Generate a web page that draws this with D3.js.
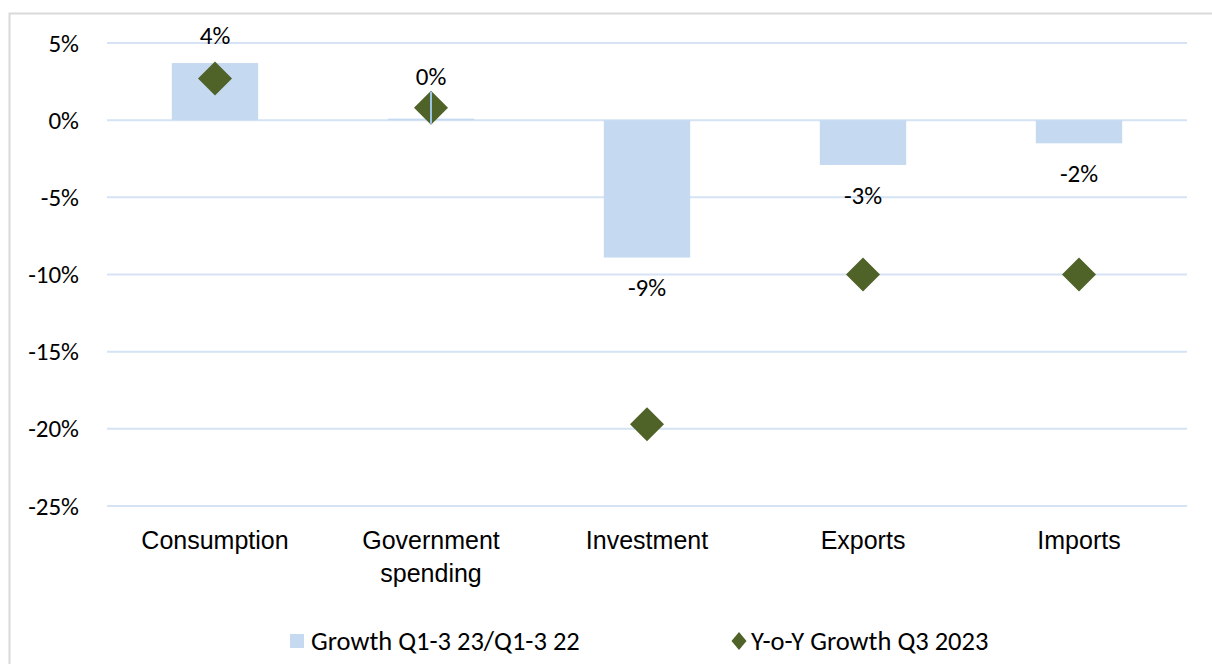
<!DOCTYPE html>
<html>
<head>
<meta charset="utf-8">
<script src="https://cdn.jsdelivr.net/npm/d3@7"></script>
<style>
  body { margin: 0; background: #fff; }
  svg { font-family: Carlito, Calibri, Lato, sans-serif; }
</style>
</head>
<body>
<div id="chart"></div>
<script>
const categories = ['Consumption', 'Government spending', 'Investment', 'Exports', 'Imports'];
const growthYtd = [3.7, 0.1, -8.9, -2.9, -1.5];   // Growth Q1-3 23/Q1-3 22
const growthYoy = [2.7, 0.8, -19.7, -10.0, -10.0]; // Y-o-Y Growth Q3 2023
const barLabels = ['4%', '0%', '-9%', '-3%', '-2%'];
const yTicks = [5, 0, -5, -10, -15, -20, -25];

const width = 1212, height = 664;
const margin = { left: 107, right: 25, top: 43, bottom: 158 };
const fontSize = 25;

const svg = d3.select('#chart').append('svg')
  .attr('width', width)
  .attr('height', height);

// chart frame
svg.append('rect')
  .attr('x', 9.5).attr('y', 13.5)
  .attr('width', 1220).attr('height', 700)
  .attr('fill', 'none')
  .attr('stroke', '#d9d9d9')
  .attr('stroke-width', 2);

const x = d3.scaleBand()
  .domain(categories)
  .range([margin.left, width - margin.right]);

const y = d3.scaleLinear()
  .domain([-25, 5])
  .range([height - margin.bottom, margin.top]);

// gridlines
svg.append('g')
  .selectAll('line')
  .data(yTicks)
  .join('line')
  .attr('x1', margin.left)
  .attr('x2', width - margin.right)
  .attr('y1', d => y(d))
  .attr('y2', d => y(d))
  .attr('stroke', '#d5e3f5')
  .attr('stroke-width', 2);

// y axis
const yAxis = svg.append('g')
  .attr('transform', `translate(${margin.left - 25},0)`)
  .call(d3.axisLeft(y).tickValues(yTicks).tickSize(0).tickFormat(d => d + '%'));
yAxis.select('.domain').remove();
yAxis.selectAll('text')
  .attr('font-size', fontSize)
  .attr('font-family', 'Carlito, Calibri, Lato, sans-serif')
  .attr('fill', '#000');

// x axis labels
const xAxis = svg.append('g')
  .attr('transform', `translate(0,${y(-25) + 22})`)
  .call(d3.axisBottom(x).tickSize(0).tickFormat(''));
xAxis.select('.domain').remove();
xAxis.selectAll('.tick').each(function (d) {
  const words = d === 'Government spending' ? ['Government', 'spending'] : [d];
  const t = d3.select(this).append('text')
    .attr('text-anchor', 'middle')
    .attr('font-size', fontSize)
    .attr('fill', '#000');
  words.forEach((w, i) => {
    t.append('tspan').attr('x', 0).attr('y', 21 + i * 33).text(w);
  });
});

const bw = x.bandwidth() * 0.4;

// bars
svg.append('g')
  .selectAll('rect')
  .data(categories)
  .join('rect')
  .attr('x', d => x(d) + (x.bandwidth() - bw) / 2)
  .attr('width', bw)
  .attr('y', (d, i) => y(Math.max(0, growthYtd[i])))
  .attr('height', (d, i) => Math.abs(y(growthYtd[i]) - y(0)))
  .attr('fill', '#c5d9f1');

// diamonds
const ds = 17;
const cx = d => x(d) + x.bandwidth() / 2;
svg.append('g')
  .selectAll('path')
  .data(categories)
  .join('path')
  .attr('transform', (d, i) => `translate(${cx(d)},${y(growthYoy[i])})`)
  .attr('d', `M0,${-ds}L${ds},0L0,${ds}L${-ds},0Z`)
  .attr('fill', '#4f6228');

// near-zero bar shows as a thin line over its marker
svg.append('g')
  .selectAll('line')
  .data(categories.filter((d, i) => Math.abs(growthYtd[i]) < 0.5))
  .join('line')
  .attr('x1', cx).attr('x2', cx)
  .attr('y1', d => y(growthYoy[categories.indexOf(d)]) - ds + 1)
  .attr('y2', d => y(growthYoy[categories.indexOf(d)]) + ds - 1)
  .attr('stroke', '#9dc3e6')
  .attr('stroke-width', 2);

// bar labels
svg.append('g')
  .selectAll('text')
  .data(categories)
  .join('text')
  .attr('x', cx)
  .attr('y', (d, i) => {
    const v = growthYtd[i];
    if (v >= 0) {
      return Math.min(y(v) - 28, y(growthYoy[i]) - ds - 15);
    }
    return y(v) + 30;
  })
  .attr('dy', '0.35em')
  .attr('text-anchor', 'middle')
  .attr('font-size', fontSize)
  .attr('fill', '#000')
  .text((d, i) => barLabels[i]);

// legend
const lg = svg.append('g').attr('transform', 'translate(0,641)');
lg.append('rect')
  .attr('x', 290).attr('y', -7)
  .attr('width', 14).attr('height', 14)
  .attr('fill', '#c5d9f1');
lg.append('text')
  .attr('x', 311).attr('y', 0).attr('dy', '0.35em')
  .attr('font-size', 26.5)
  .text('Growth Q1-3 23/Q1-3 22');
lg.append('path')
  .attr('transform', 'translate(739,0)')
  .attr('d', 'M0,-9L7.5,0L0,9L-7.5,0Z')
  .attr('fill', '#4f6228');
lg.append('text')
  .attr('x', 751).attr('y', 0).attr('dy', '0.35em')
  .attr('font-size', 26.5)
  .text('Y-o-Y Growth Q3 2023');
</script>
</body>
</html>
